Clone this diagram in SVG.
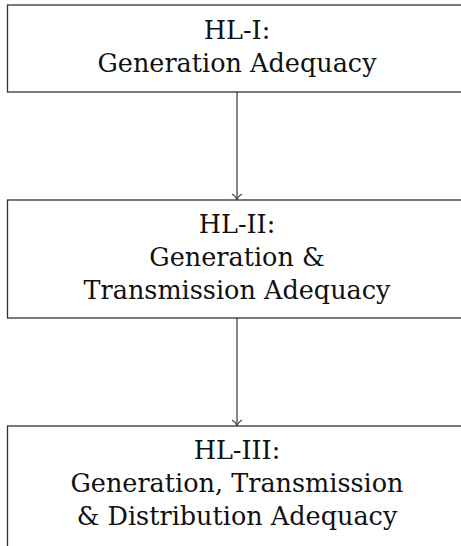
<svg xmlns="http://www.w3.org/2000/svg" width="461" height="546" viewBox="0 0 461 546">
<style>
.box{fill:#fff;stroke:#333;stroke-width:1.3}
.t{font-family:"DejaVu Serif","Liberation Serif",serif;font-size:25.5px;fill:#111;text-anchor:middle}
.c{stroke:#444;stroke-width:1.3;fill:none}
</style>
<rect width="461" height="546" fill="#fff"/>
<g id="connectors">
<line class="c" x1="237" y1="92" x2="237" y2="199.5"/>
<path class="c" d="M232,194 Q235.5,196 237,199.5 Q238.5,196 242,194"/>
<line class="c" x1="237" y1="318" x2="237" y2="425.5"/>
<path class="c" d="M232,420 Q235.5,422 237,425.5 Q238.5,422 242,420"/>
</g>
<g id="hl1">
<rect class="box" x="7.5" y="5" width="459" height="87"/>
<text class="t" x="237" y="39">HL-I:</text>
<text class="t" x="237" y="72">Generation Adequacy</text>
</g>
<g id="hl2">
<rect class="box" x="7.5" y="200" width="459" height="118"/>
<text class="t" x="237" y="233">HL-II:</text>
<text class="t" x="237" y="266">Generation &amp;</text>
<text class="t" x="237" y="299">Transmission Adequacy</text>
</g>
<g id="hl3">
<rect class="box" x="7.5" y="426" width="459" height="126"/>
<text class="t" x="237" y="459">HL-III:</text>
<text class="t" x="237" y="492">Generation, Transmission</text>
<text class="t" x="237" y="525">&amp; Distribution Adequacy</text>
</g>
</svg>
